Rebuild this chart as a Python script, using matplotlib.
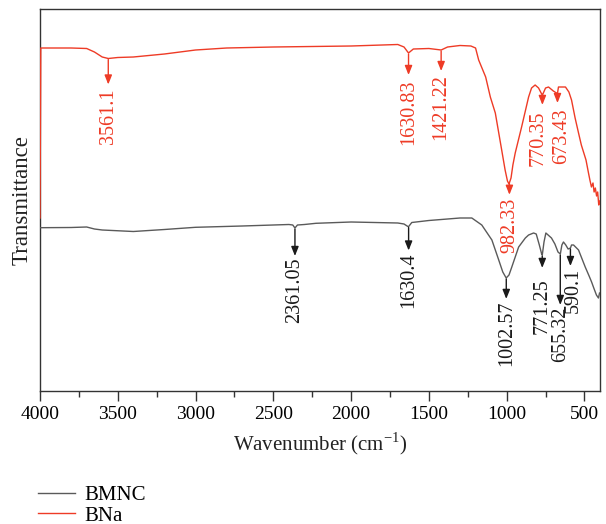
import matplotlib
matplotlib.use("Agg")
import matplotlib.pyplot as plt
from matplotlib.ticker import MultipleLocator

plt.rcParams["font.family"] = ["Liberation Serif", "DejaVu Serif"]
plt.rcParams["mathtext.fontset"] = "custom"
plt.rcParams["mathtext.rm"] = "Liberation Serif"

# FTIR spectra (transmittance, arbitrary units, offset traces)
bna_wn = [4000, 3995, 3800, 3700, 3650, 3600, 3561, 3500, 3400, 3200, 3000,
          2800, 2500, 2000, 1800, 1700, 1660, 1631, 1600, 1500, 1421, 1380,
          1300, 1230, 1200, 1180, 1135, 1105, 1073, 1032, 1010, 995, 985,
          972, 960, 945, 904, 859, 840, 817, 795, 775, 770, 750, 731, 700,
          680, 673, 667, 622, 600, 583, 560, 538, 520, 506, 490, 474, 465,
          455, 445, 438, 430, 422, 415, 408, 403]
bna_t = [173, 343, 343, 342.5, 339, 334, 332.5, 333.5, 334, 337, 341,
         343, 344, 345, 346, 346.5, 344, 338, 342, 342.5, 341, 344,
         345.5, 345, 343, 331, 314, 294, 278, 241, 221, 210, 207,
         213, 226, 238, 264, 294, 303, 306, 303, 297, 296, 303, 304, 300,
         298, 298, 304, 304, 299, 291, 273, 258, 246, 239, 231, 218, 211,
         204, 208, 199, 203, 195, 199, 186, 190]

bmnc_wn = [4000, 3800, 3700, 3650, 3600, 3400, 3200, 3000, 2700, 2500, 2400,
           2375, 2361, 2345, 2300, 2226, 2000, 1700, 1660, 1635, 1630, 1610,
           1500, 1300, 1224, 1160, 1095, 1051, 1025, 1003, 985, 967, 923,
           880, 859, 827, 810, 790, 775, 771, 760, 748, 712, 690, 670, 655,
           645, 635, 620, 605, 590, 583, 570, 538, 495, 470, 454, 440, 423,
           410, 403]
bmnc_t = [163.3, 163.5, 164, 162, 161, 159.5, 161.5, 163.7, 165, 166, 166.5,
          166, 163, 166, 166.5, 167.7, 169, 168, 167, 164.5, 164.5, 168.5,
          170.5, 173, 173, 166, 151, 131, 119, 113, 116, 124, 144,
          153, 156, 158, 157, 146, 137, 136, 149, 158, 153, 147, 139, 137,
          146, 149, 146, 142, 143, 146, 146, 141, 124, 115, 109, 103, 96,
          93, 98]

# Peak labels: wavenumber, arrow length, gap to text, text x-offset (cm-1)
bna_peaks = [3561.1, 1630.83, 1421.22, 982.33, 770.35, 673.43]
bna_arrow = [25, 21, 20, 11, 9, 9]
bna_gap = [4, 5, 3, 3, 6, 6]
bna_dx = [0, 0, 0, 0, 25, -25]

bmnc_peaks = [2361.05, 1630.4, 1002.57, 771.25, 655.32, 590.1]
bmnc_arrow = [27, 23, 20, 12, 50, 17]
bmnc_gap = [2, 2, 2, 10, 2, 2]
bmnc_dx = [0, 0, 0, 0, 0, -20]

RED = "#EE3B26"
GRAY = "#5a5a5a"
DARK = "#1a1a1a"

fig = plt.figure(figsize=(6.06, 5.24), dpi=100)
ax = fig.add_axes([40 / 606, 1 - 391 / 524, 560 / 606, 382 / 524])

ax.plot(bmnc_wn, bmnc_t, color=GRAY, lw=1.0, label="BMNC", zorder=3)
ax.plot(bna_wn, bna_t, color=RED, lw=1.0, label="BNa", zorder=3)

ax.set_xlim(4000, 400)
ax.set_ylim(0, 382)


def value_at(wn, xs, ys):
    # linear read-off of the trace at a wavenumber (xs descending)
    for i in range(len(xs) - 1):
        a, b = xs[i], xs[i + 1]
        if b <= wn <= a:
            f = (a - wn) / (a - b) if a != b else 0
            return ys[i] + f * (ys[i + 1] - ys[i])
    return ys[-1]


def mark_peaks(peaks, lengths, gaps, dxs, xs, ys, arrow_color, text_color):
    for wn, ln, gp, dx in zip(peaks, lengths, gaps, dxs):
        y0 = value_at(wn, xs, ys) - 1
        y1 = y0 - ln
        ax.annotate("", xy=(wn, y1), xytext=(wn, y0),
                    arrowprops=dict(arrowstyle="-|>,head_length=0.55,head_width=0.22",
                                    color=arrow_color, lw=1.0,
                                    shrinkA=0, shrinkB=0))
        ax.text(wn + dx, y1 - gp, f"{wn:g}", rotation=90, ha="center", va="top",
                color=text_color, fontsize=14.5)


mark_peaks(bna_peaks, bna_arrow, bna_gap, bna_dx, bna_wn, bna_t, RED, RED)
mark_peaks(bmnc_peaks, bmnc_arrow, bmnc_gap, bmnc_dx, bmnc_wn, bmnc_t, DARK, DARK)

ax.xaxis.set_major_locator(MultipleLocator(500))
ax.xaxis.set_minor_locator(MultipleLocator(250))
ax.tick_params(axis="x", which="major", direction="out", length=7, width=1,
               color="#333333", labelsize=14, pad=4)
ax.tick_params(axis="x", which="minor", direction="out", length=4, width=1,
               color="#333333")
ax.set_yticks([])
for sp in ax.spines.values():
    sp.set_color("#333333")
    sp.set_linewidth(1.0)

ax.set_xlabel(r"Wavenumber (cm$^{\mathregular{-1}}$)", fontsize=15, labelpad=5,
              color="#222222")
ax.set_ylabel("Transmittance", fontsize=16.5, labelpad=5, color="#222222")

fig.legend(loc="upper left", bbox_to_anchor=(30 / 606, 1 - 477 / 524),
           frameon=False, fontsize=15, handlelength=1.75, handletextpad=0.45,
           labelspacing=0.05, borderaxespad=0)

fig.savefig("out.png", dpi=100)
